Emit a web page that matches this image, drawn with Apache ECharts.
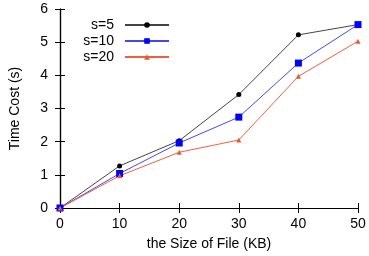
<!DOCTYPE html>
<html><head><meta charset="utf-8">
<script src="https://cdn.jsdelivr.net/npm/echarts@6/dist/echarts.min.js"></script>
<style>html,body{margin:0;padding:0;background:#fff}#c{width:369px;height:256px}</style>
</head><body><div id="c"></div>
<script>
var xCats = [0, 10, 20, 30, 40, 50];
var s5 = [0, 1.27, 2.03, 3.42, 5.22, 5.53];
var s10 = [0, 1.04, 1.96, 2.74, 4.37, 5.53];
var s20 = [0, 0.97, 1.68, 2.05, 3.97, 5.03];
var names = ['s=5', 's=10', 's=20'];

var chart = echarts.init(document.getElementById('c'));
var font = 'Liberation Sans';
function mk(d){return xCats.map(function(x,i){return [x,d[i]];});}
function legend(name, top){
  return {data:[name], right:199, top:top, itemWidth:44, itemHeight:7, itemGap:0, align:'right', padding:0,
    textStyle:{fontFamily:font, fontSize:14, color:'#000', padding:[0,6,0,0]}};
}
chart.setOption({
  animation:false,
  legend:[legend('s=5',18), legend('s=10',34), legend('s=20',50)],
  grid:{left:60, right:11, top:9, bottom:46},
  xAxis:[{type:'value', min:0, max:50, interval:10, position:'bottom',
    name:'the Size of File (KB)', nameLocation:'middle', nameGap:29,
    nameTextStyle:{fontFamily:font, fontSize:14, color:'#000'},
    axisLine:{show:true, lineStyle:{color:'#000', width:1.2}},
    axisTick:{show:true, inside:true, length:5, lineStyle:{color:'#000'}},
    axisLabel:{fontFamily:font, fontSize:14, color:'#000', margin:9},
    splitLine:{show:false}},
   {type:'value', min:0, max:50, interval:10, position:'top',
    axisLine:{show:true, lineStyle:{color:'#000', width:1.2}},
    axisTick:{show:true, inside:true, length:5, lineStyle:{color:'#000'}},
    axisLabel:{show:false}, splitLine:{show:false}}],
  yAxis:[{type:'value', min:0, max:6, interval:1, position:'left',
    name:'Time Cost (s)', nameLocation:'middle', nameGap:38, nameRotate:90,
    nameTextStyle:{fontFamily:font, fontSize:14, color:'#000'},
    axisLine:{show:true, lineStyle:{color:'#000', width:1.2}},
    axisTick:{show:true, inside:true, length:5, lineStyle:{color:'#000'}},
    axisLabel:{fontFamily:font, fontSize:14, color:'#000', margin:12},
    splitLine:{show:false}},
   {type:'value', min:0, max:6, interval:1, position:'right',
    axisLine:{show:true, lineStyle:{color:'#000', width:1.2}},
    axisTick:{show:true, inside:true, length:5, lineStyle:{color:'#000'}},
    axisLabel:{show:false}, splitLine:{show:false}}],
  series:[
    {name:names[0], type:'line', data:mk(s5), symbol:'circle', symbolSize:5,
     lineStyle:{color:'#444', width:1}, itemStyle:{color:'#000'}},
    {name:names[1], type:'line', data:mk(s10), symbol:'rect', symbolSize:7,
     lineStyle:{color:'#4848e8', width:1}, itemStyle:{color:'#0000ff'}},
    {name:names[2], type:'line', data:mk(s20), symbol:'triangle', symbolSize:5,
     lineStyle:{color:'#ee6040', width:1}, itemStyle:{color:'#e85a30'}}
  ]
});
</script></body></html>
